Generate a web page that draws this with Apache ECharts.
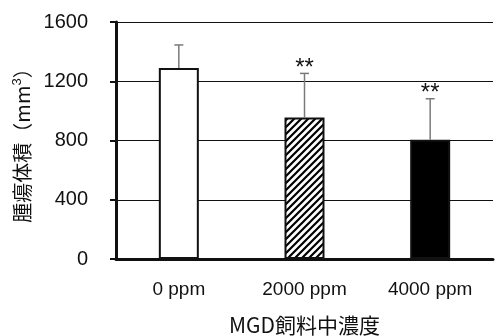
<!DOCTYPE html>
<html><head><meta charset="utf-8">
<script src="https://cdn.jsdelivr.net/npm/echarts@6/dist/echarts.min.js"></script>
<style>html,body{margin:0;padding:0;background:#fff}#c{width:495px;height:336px}</style>
</head><body><div id="c"></div>
<script>
const categories = ['0 ppm', '2000 ppm', '4000 ppm'];
const means = [1290, 955, 805];
const errTops = [1445, 1253, 1082];
const marks = ['', '**', '**'];
const yTicks = [0, 400, 800, 1200, 1600];

function hatch() {
  const c = document.createElement('canvas');
  c.width = 7; c.height = 7;
  const g = c.getContext('2d');
  g.fillStyle = '#fff'; g.fillRect(0, 0, 7, 7);
  g.strokeStyle = '#000'; g.lineWidth = 2.2;
  g.beginPath();
  g.moveTo(-1, 8); g.lineTo(8, -1);
  g.moveTo(-8, 8); g.lineTo(1, -1);
  g.moveTo(6, 8); g.lineTo(15, -1);
  g.stroke();
  return c;
}
const fills = ['#ffffff', { image: hatch(), repeat: 'repeat' }, '#000000'];

const chart = echarts.init(document.getElementById('c'));
const lab = 'Liberation Sans, Arial, sans-serif';
const jp = '"Noto Sans CJK JP", sans-serif';
chart.setOption({
  animation: false,
  grid: { left: 116, right: 2, top: 22, bottom: 77, outerBoundsMode: 'none', containLabel: false },
  xAxis: {
    type: 'category', data: categories,
    name: 'MGD飼料中濃度', nameLocation: 'middle', nameGap: 56,
    nameTextStyle: { fontFamily: jp, fontSize: 21, color: '#111' },
    axisLine: { lineStyle: { color: '#111', width: 3 } },
    axisTick: { inside: true, length: 5, lineStyle: { color: '#111', width: 2 } },
    axisLabel: { fontFamily: lab, fontSize: 19, color: '#111', margin: 21 }
  },
  yAxis: {
    type: 'value', min: yTicks[0], max: yTicks[yTicks.length - 1], interval: 400,
    name: '{a|腫瘍体積（mm}{s|3}{a|）}', nameLocation: 'middle', nameGap: 78,
    nameTextStyle: { rich: {
      a: { fontFamily: jp, fontSize: 20, color: '#111', lineHeight: 24 },
      s: { fontFamily: lab, fontSize: 13, color: '#111', verticalAlign: 'top', lineHeight: 24 }
    } },
    axisLine: { show: true, lineStyle: { color: '#111', width: 3 } },
    axisTick: { show: true, length: 6, lineStyle: { color: '#111', width: 2 } },
    axisLabel: { fontFamily: lab, fontSize: 20, color: '#111', margin: 28, formatter: v => String(v) },
    splitLine: { lineStyle: { color: '#111', width: 1 } }
  },
  series: [{
    type: 'bar', barWidth: 40,
    data: means.map((v, i) => ({ value: v, itemStyle: { color: fills[i] } })),
    itemStyle: { borderColor: '#111', borderWidth: 2 }
  }, {
    type: 'custom', z: 5,
    data: means.map((v, i) => [i, v, errTops[i], marks[i]]),
    renderItem: function (params, api) {
      const b = api.coord([api.value(0), api.value(1)]);
      const t = api.coord([api.value(0), api.value(2)]);
      const st = { stroke: '#7a7a7a', lineWidth: 1.5 };
      return { type: 'group', children: [
        { type: 'line', shape: { x1: b[0], y1: b[1], x2: b[0], y2: t[1] }, style: st },
        { type: 'line', shape: { x1: b[0] - 4.5, y1: t[1], x2: b[0] + 4.5, y2: t[1] }, style: st },
        { type: 'text', style: { text: marks[params.dataIndex], x: b[0], y: t[1] + 6.5, align: 'center', verticalAlign: 'bottom',
          font: '24px Liberation Sans, Arial, sans-serif', fill: '#111' } }
      ] };
    }
  }]
});
</script></body></html>
